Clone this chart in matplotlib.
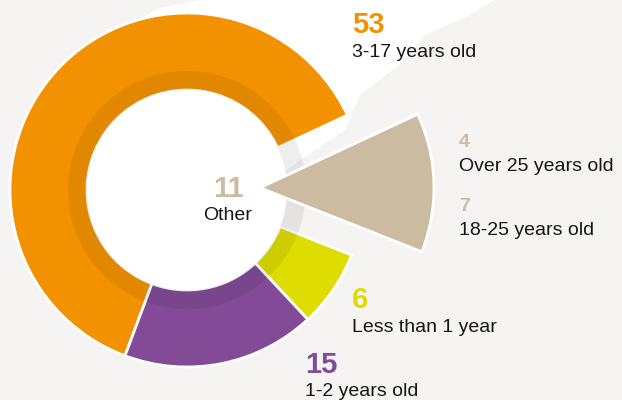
import matplotlib
matplotlib.use('Agg')
import matplotlib.pyplot as plt
from matplotlib.patches import Circle, Polygon

# data
groups = ['3-17 years old', 'Other', 'Less than 1 year', '1-2 years old']
counts = [53, 11, 6, 15]
colors = ['#F39200', '#CBBBA0', '#DEDC00', '#824A97']
other_groups = ['Over 25 years old', '18-25 years old']
other_counts = [4, 7]

BG = '#F5F4F2'
TXT = '#161616'
plt.rcParams['font.family'] = ['Liberation Sans', 'DejaVu Sans']

fig = plt.figure(figsize=(6.22, 4.0), dpi=100, facecolor=BG)
ax = fig.add_axes([0, 0, 1, 1])
ax.set_facecolor(BG)

# white map-like shape behind the chart
ax.add_patch(Polygon([(200, 400), (495, 400), (470, 385), (425, 365), (405, 340),
                      (360, 305), (345, 270), (300, 240), (250, 200), (120, 180),
                      (90, 300), (120, 370), (160, 392)],
                     closed=True, facecolor='white', edgecolor='none', zorder=0))

center = (187, 210)
R = 177
hole = 100
start = 249.5

wedges, _ = ax.pie(counts, colors=colors, startangle=start, counterclock=False,
                   radius=R, center=center, explode=[0, 73, 0, 0],
                   wedgeprops=dict(width=R - hole, edgecolor='white', linewidth=2))
for w in wedges:
    w.set_zorder(2)
# "Other" is drawn as a full slice pulled out of the ring
wedges[1].set_radius(174)
wedges[1].set_width(None)
wedges[1].set_zorder(4)

# inner shadow band
shade, _ = ax.pie(counts, colors=[(0, 0, 0, 0.065)] * len(counts), startangle=start,
                  counterclock=False, radius=hole + 19, center=center,
                  wedgeprops=dict(width=19, edgecolor='none', linewidth=0))
for w in shade:
    w.set_zorder(3)
ax.add_patch(Circle(center, hole, facecolor='white', edgecolor='none', zorder=3.5))

ax.set_xlim(0, 622)
ax.set_ylim(0, 400)
ax.set_aspect('equal')
ax.axis('off')

big = dict(fontsize=21, fontweight='bold', va='baseline')
small = dict(fontsize=14, fontweight='bold', va='baseline')
lab = dict(fontsize=14, color=TXT, va='baseline')

ax.text(352, 367, str(counts[0]), color=colors[0], **big, zorder=5)
ax.text(352, 343, groups[0], **lab, zorder=5)

ax.text(228, 203, str(counts[1]), color=colors[1], ha='center', **big, zorder=5)
ax.text(228, 180, groups[1], ha='center', **lab, zorder=5)

ax.text(459, 253, str(other_counts[0]), color=colors[1], **small, zorder=5)
ax.text(459, 229, other_groups[0], **lab, zorder=5)
ax.text(459, 189, str(other_counts[1]), color=colors[1], **small, zorder=5)
ax.text(459, 165, other_groups[1], **lab, zorder=5)

ax.text(352, 92, str(counts[2]), color=colors[2], **big, zorder=5)
ax.text(352, 68, groups[2], **lab, zorder=5)

ax.text(305, 27, str(counts[3]), color=colors[3], **big, zorder=5)
ax.text(305, 4, groups[3], **lab, zorder=5)

fig.savefig('out.png', dpi=100, facecolor=BG)
